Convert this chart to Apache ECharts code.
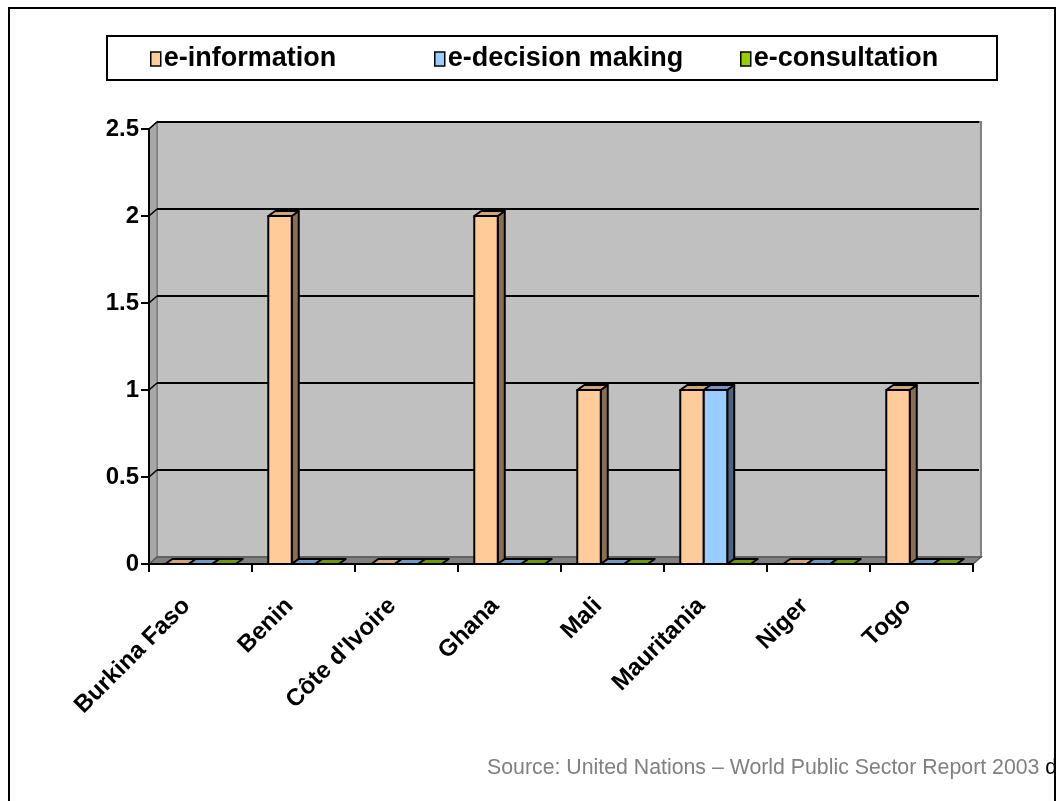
<!DOCTYPE html>
<html>
<head>
<meta charset="utf-8">
<script src="https://cdn.jsdelivr.net/npm/echarts@6/dist/echarts.min.js"></script>
<style>
html,body{margin:0;padding:0;background:#fff;}
#chart{width:1057px;height:801px;}
</style>
</head>
<body>
<div id="chart"></div>
<script>
var categories = ['Burkina Faso','Benin',"Côte d'Ivoire",'Ghana','Mali','Mauritania','Niger','Togo'];
var seriesNames = ['e-information','e-decision making','e-consultation'];
var eInformation = [0,2,0,2,1,1,0,1];
var eDecision = [0,0,0,0,0,1,0,0];
var eConsultation = [0,0,0,0,0,0,0,0];
var yTicks = [0,0.5,1,1.5,2,2.5];
var sourceText = 'Source: United Nations \u2013 World Public Sector Report 2003 ';

var palettes = [
  {front:'#FFCC99', top:'#D1A57A', side:'#8A6E52'},
  {front:'#99CCFF', top:'#6F98C4', side:'#4D6280'},
  {front:'#99CC00', top:'#6E9A00', side:'#4F6E00'}
];
var FONT = '"Liberation Sans", Arial, sans-serif';
var chart = echarts.init(document.getElementById('chart'), null, {renderer:'canvas'});

function wallRender(params, api){
  var cs = params.coordSys;
  var dx = 8, dy = -7;
  var x = cs.x, y = cs.y, w = cs.width, h = cs.height;
  var kids = [];
  kids.push({type:'rect', shape:{x:x+dx, y:y+dy, width:w, height:h}, style:{fill:'#C0C0C0', stroke:'#808080', lineWidth:2}});
  kids.push({type:'polygon', shape:{points:[[x,y],[x+dx,y+dy],[x+dx,y+h+dy],[x,y+h]]}, style:{fill:'#A8A8A8', stroke:'#808080', lineWidth:1.5}});
  for (var i=1;i<yTicks.length;i++){
    var yy = api.coord([0, yTicks[i]])[1];
    kids.push({type:'line', shape:{x1:x+dx, y1:yy+dy, x2:x+w+dx-2, y2:yy+dy}, style:{stroke:'#000', lineWidth:2}});
    kids.push({type:'line', shape:{x1:x, y1:yy, x2:x+dx, y2:yy+dy}, style:{stroke:'#000', lineWidth:1.5}});
  }
  kids.push({type:'polygon', shape:{points:[[x,y+h],[x+dx,y+h+dy],[x+w+dx,y+h+dy],[x+w,y+h]]}, style:{fill:'#808080', stroke:'#5a5a5a', lineWidth:1.5}});
  return {type:'group', children:kids};
}

function makeBarRender(si){
  var pal = palettes[si];
  return function(params, api){
    var cat = api.value(0), val = api.value(1);
    var band = api.size([1,0])[0];
    var bw = band*0.228;
    var c = api.coord([cat, val]);
    var b = api.coord([cat, 0]);
    var x0 = c[0] + (si-1.5)*bw, x1 = x0 + bw;
    var dx = 7, dy = -5;
    var kids = [];
    var st = {stroke:'#000', lineWidth:2, lineJoin:'round'};
    if (val > 0){
      kids.push({type:'polygon', shape:{points:[[x1,c[1]],[x1+dx,c[1]+dy],[x1+dx,b[1]+dy],[x1,b[1]]]}, style:Object.assign({fill:pal.side}, st)});
      kids.push({type:'polygon', shape:{points:[[x0,c[1]],[x0+dx,c[1]+dy],[x1+dx,c[1]+dy],[x1,c[1]]]}, style:Object.assign({fill:pal.top}, st)});
      kids.push({type:'rect', shape:{x:x0, y:c[1], width:bw, height:b[1]-c[1]}, style:Object.assign({fill:pal.front}, st)});
    } else {
      kids.push({type:'polygon', shape:{points:[[x0,b[1]],[x0+dx,b[1]+dy],[x1+dx,b[1]+dy],[x1,b[1]]]}, style:Object.assign({fill:pal.top}, st)});
    }
    return {type:'group', children:kids};
  };
}

var dataSets = [eInformation, eDecision, eConsultation];
var series = [{
  type:'custom', name:'walls', silent:true, z:1,
  renderItem: wallRender, data:[[0,0]]
}];
for (var s=0;s<3;s++){
  series.push({
    type:'custom', name:seriesNames[s], z:3+s,
    itemStyle:{color:palettes[s].front},
    renderItem: makeBarRender(s),
    data: dataSets[s].map(function(v,i){return [i,v];})
  });
}

var legendLefts = [150, 434, 740];
var legends = seriesNames.map(function(n, i){
  return {
    data:[n], left:legendLefts[i], top:45, padding:0, itemGap:0,
    itemWidth:10, itemHeight:14, icon:'rect',
    itemStyle:{borderColor:'#000', borderWidth:1.5},
    textStyle:{fontFamily:FONT, fontWeight:'bold', fontSize:27, lineHeight:28, color:'#000', padding:[0,0,0,-2]}
  };
});

chart.setOption({
  animation:false,
  backgroundColor:'#fff',
  legend: legends,
  grid:{left:149, right:84, top:129, bottom:237, containLabel:false},
  xAxis:{
    type:'category', data:categories, boundaryGap:true, z:6,
    axisLine:{show:true, lineStyle:{color:'#000', width:2}},
    axisTick:{show:true, length:8, lineStyle:{color:'#000', width:2}},
    axisLabel:{interval:0, rotate:45, margin:24, color:'#000', fontFamily:FONT, fontWeight:'bold', fontSize:24, padding:[0,20,0,0]},
    splitLine:{show:false}
  },
  yAxis:{
    type:'value', min:yTicks[0], max:yTicks[yTicks.length-1], interval:yTicks[1]-yTicks[0], z:6,
    axisLine:{show:true, lineStyle:{color:'#000', width:2}},
    axisTick:{show:true, length:8, lineStyle:{color:'#000', width:2}},
    axisLabel:{margin:10, color:'#000', fontFamily:FONT, fontWeight:'bold', fontSize:24},
    splitLine:{show:false}
  },
  graphic:[
    {type:'rect', z:0, shape:{x:9, y:8, width:1046, height:820}, style:{fill:null, stroke:'#000', lineWidth:2}},
    {type:'rect', z:0, shape:{x:107, y:36, width:890, height:44}, style:{fill:null, stroke:'#000', lineWidth:2}},
    {type:'text', left:487, top:758, z:0, style:{
      text:'{g|'+sourceText+'}{b|d}',
      rich:{g:{fill:'#808080', fontFamily:FONT, fontSize:21.3}, b:{fill:'#000', fontFamily:FONT, fontSize:21.3}}
    }}
  ],
  series: series
});
</script>
</body>
</html>
